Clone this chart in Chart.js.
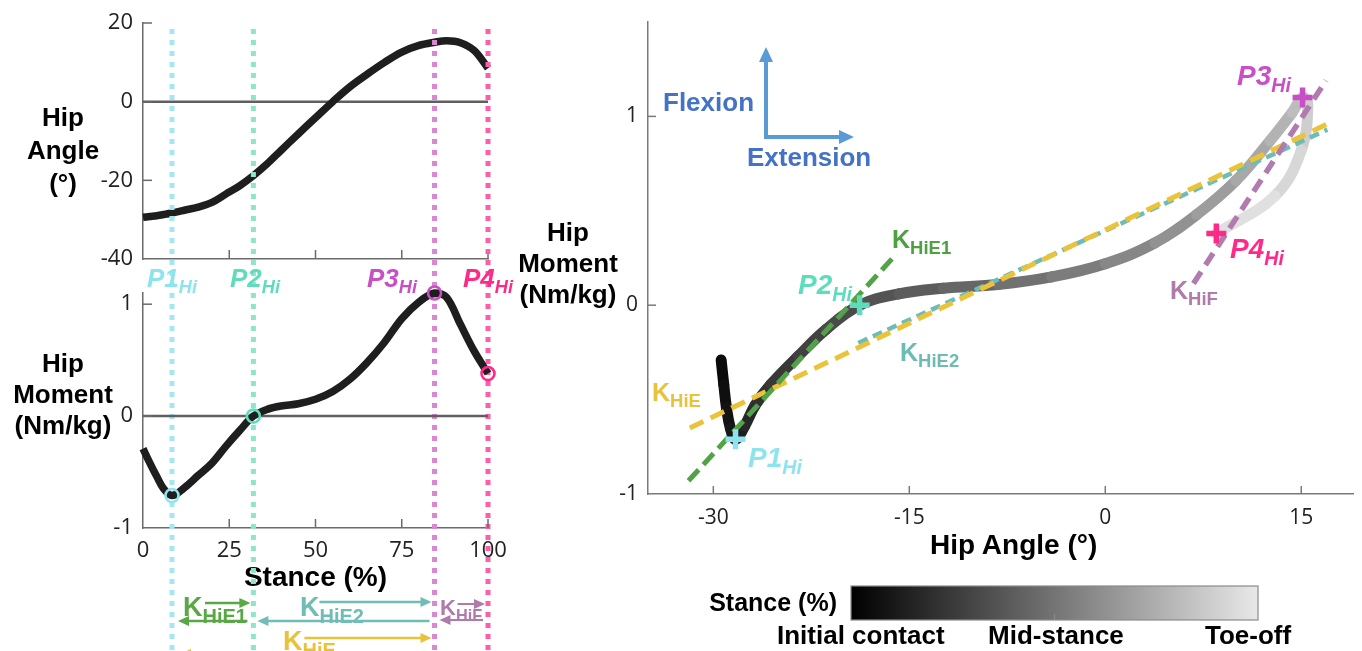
<!DOCTYPE html>
<html><head><meta charset="utf-8">
<script src="https://cdn.jsdelivr.net/npm/chart.js@4.4.0/dist/chart.umd.min.js"></script>
<style>
html,body{margin:0;padding:0;background:#fff;width:1362px;height:651px;overflow:hidden;position:relative;font-family:"Liberation Sans",Arial,sans-serif;}
canvas{position:absolute;}
#c1{left:0;top:0;z-index:1}
#c2{left:0;top:0;z-index:2}
#c3{left:520px;top:0;z-index:1}
.lb{position:absolute;z-index:5;font-weight:bold;white-space:nowrap;line-height:1;}
.p{font-style:italic;}
.s{font-size:.7em;position:relative;top:.38em;}
.ks{font-size:.74em;position:relative;top:.37em;}
.yt{position:absolute;z-index:5;font-weight:bold;font-size:26px;text-align:center;color:#000;white-space:nowrap;}
</style></head><body>
<canvas id="c1" width="530" height="300"></canvas>
<canvas id="c2" width="530" height="651"></canvas>
<canvas id="c3" width="849" height="651"></canvas>

<!-- y-axis titles -->
<div class="yt" style="left:-2px;top:101px;width:130px;line-height:33px">Hip<br>Angle<br>(°)</div>
<div class="yt" style="left:-2px;top:348px;width:130px;line-height:31px">Hip<br>Moment<br>(Nm/kg)</div>
<div class="yt" style="left:503px;top:217px;width:130px;line-height:31px">Hip<br>Moment<br>(Nm/kg)</div>
<div class="lb" style="left:930px;top:531px;font-size:28px;color:#000">Hip Angle (°)</div>

<!-- phase labels, left -->
<div class="lb p" style="left:147px;top:264.5px;font-size:26px;color:#8ee4ee">P1<span class="s">Hi</span></div>
<div class="lb p" style="left:230px;top:264.5px;font-size:26px;color:#5fdcbc">P2<span class="s">Hi</span></div>
<div class="lb p" style="left:367px;top:264.5px;font-size:26px;color:#c94fc6">P3<span class="s">Hi</span></div>
<div class="lb p" style="left:463px;top:264.5px;font-size:26px;color:#ff2a88">P4<span class="s">Hi</span></div>

<!-- stiffness phase labels, left -->
<div class="lb" style="left:183px;top:593.5px;font-size:27px;color:#5aa845">K<span class="ks">HiE1</span></div>
<div class="lb" style="left:300px;top:593.5px;font-size:27px;color:#6fbdb5">K<span class="ks">HiE2</span></div>
<div class="lb" style="left:440px;top:597px;font-size:22px;color:#b07aaa">K<span class="ks">HiF</span></div>
<div class="lb" style="left:283px;top:627.5px;font-size:27px;color:#e8c23a">K<span class="ks">HiE</span></div>

<!-- right panel labels -->
<div class="lb" style="left:663px;top:88.5px;font-size:26px;color:#4472c4">Flexion</div>
<div class="lb" style="left:747px;top:143.5px;font-size:26px;color:#4472c4">Extension</div>
<div class="lb p" style="left:748px;top:443.5px;font-size:28px;color:#8ee4ee">P1<span class="s">Hi</span></div>
<div class="lb p" style="left:798px;top:270.5px;font-size:28px;color:#5fdcbc">P2<span class="s">Hi</span></div>
<div class="lb p" style="left:1237px;top:61.5px;font-size:28px;color:#c94fc6">P3<span class="s">Hi</span></div>
<div class="lb p" style="left:1230px;top:234.5px;font-size:28px;color:#ff2a88">P4<span class="s">Hi</span></div>
<div class="lb" style="left:892px;top:226.5px;font-size:25px;color:#4ea040">K<span class="ks">HiE1</span></div>
<div class="lb" style="left:900px;top:339.5px;font-size:25px;color:#6dbcb3">K<span class="ks">HiE2</span></div>
<div class="lb" style="left:652px;top:379.5px;font-size:25px;color:#e8c23a">K<span class="ks">HiE</span></div>
<div class="lb" style="left:1170px;top:277.5px;font-size:25px;color:#b07aaa">K<span class="ks">HiF</span></div>

<!-- colour bar labels -->
<div class="lb" style="right:525px;top:590px;font-size:25px;color:#000">Stance (%)</div>
<div class="lb" style="left:777px;top:621.5px;font-size:26px;color:#000">Initial contact</div>
<div class="lb" style="left:988px;top:621.5px;font-size:26px;color:#000">Mid-stance</div>
<div class="lb" style="left:1205px;top:621.5px;font-size:26px;color:#000">Toe-off</div>

<script>
// ---------------- data ----------------
const stance    = [0, 2, 4, 6, 8.4, 12, 16, 20, 24, 28, 32, 36, 40, 45, 50, 55, 60, 65, 70, 75, 80, 84.5, 88, 92, 96, 100];
const hipAngle  = [-29.4, -29.2, -29.0, -28.7, -28.3, -27.6, -26.8, -25.6, -23.5, -21.4, -18.8, -15.8, -12.4, -8.2, -4.1, 0, 3.8, 7.0, 10.0, 12.6, 14.3, 15.1, 15.5, 15.0, 13.0, 8.5];
const hipMoment = [-0.29, -0.42, -0.54, -0.65, -0.71, -0.64, -0.53, -0.42, -0.27, -0.13, 0, 0.06, 0.09, 0.11, 0.15, 0.22, 0.33, 0.48, 0.66, 0.87, 1.02, 1.10, 1.06, 0.82, 0.58, 0.38];

const phaseStance = [8.4, 32, 84.5, 100];           // P1Hi..P4Hi
const phaseColors = ['#8ee4ee', '#5fdcbc', '#c94fc6', '#ff2a88'];
const phaseLineColors = ['#a5e7f0', '#8ee5c9', '#db86d2', '#ff5ca9'];

// fitted stiffness lines (hip angle, hip moment)
const kHiE1Angle = [-31.9, -16.0], kHiE1Moment = [-0.93, 0.27];
const kHiE2Angle = [-18.9, 17.0],  kHiE2Moment = [-0.20, 0.93];
const kHiEAngle  = [-31.8, 17.0],  kHiEMoment  = [-0.65, 0.96];
const kHiFAngle  = [6.75, 16.9],   kHiFMoment  = [0.115, 1.19];

// tick labels
const stanceTicks = [0, 25, 50, 75, 100];
const angleTicks  = [-40, -20, 0, 20];
const momentTicks = [-1, 0, 1];
const hipAngleTicks = [-30, -15, 0, 15];
const hipMomentTicks = [-1, 0, 1];

// ---------------- helpers ----------------
const phaseIdx = phaseStance.map(p => stance.indexOf(p));
const pts = (xs, ys) => xs.map((v, i) => ({x: v, y: ys[i]}));
const setTicks = arr => s => { s.ticks = arr.map(v => ({value: v})); };
const axisBorder = {display: true, color: '#6b6b6b', width: 1.5};
const noGrid = {display: false, drawTicks: false};
const tickFont = size => ({family: 'Open Sans', size: size});
const fixW = w => s => { s.width = w; s.paddingTop = 0; s.paddingBottom = 0; s.paddingLeft = 0; s.paddingRight = 0; };
const fixH = h => s => { s.height = h; s.paddingTop = 0; s.paddingBottom = 0; s.paddingLeft = 0; s.paddingRight = 0; };

const insideTicks = {
  id: 'insideTicks',
  afterDraw(chart, args, o) {
    const {ctx, chartArea: a, scales: {x, y}} = chart;
    ctx.save();
    ctx.strokeStyle = o.color || '#6b6b6b';
    ctx.lineWidth = 1.5;
    const len = o.len || 8;
    x.ticks.forEach(t => {
      const px = x.getPixelForValue(t.value);
      if (Math.abs(px - a.left) < 1) return;
      ctx.beginPath(); ctx.moveTo(px, a.bottom); ctx.lineTo(px, a.bottom - len); ctx.stroke();
    });
    y.ticks.forEach(t => {
      const py = y.getPixelForValue(t.value);
      if (Math.abs(py - a.bottom) < 1) return;
      ctx.beginPath(); ctx.moveTo(a.left, py); ctx.lineTo(a.left + len, py); ctx.stroke();
    });
    ctx.restore();
  }
};

function arrow(ctx, x0, x1, y, color, lw) {
  const dir = Math.sign(x1 - x0), hl = 11, hw = 5;
  ctx.strokeStyle = color; ctx.fillStyle = color; ctx.lineWidth = lw || 2.5;
  ctx.beginPath(); ctx.moveTo(x0, y); ctx.lineTo(x1 - dir * hl * 0.7, y); ctx.stroke();
  ctx.beginPath(); ctx.moveTo(x1, y); ctx.lineTo(x1 - dir * hl, y - hw); ctx.lineTo(x1 - dir * hl, y + hw); ctx.closePath(); ctx.fill();
}

const phaseLines = {
  id: 'phaseLines',
  beforeDatasetsDraw(chart) {
    const {ctx, scales: {x}} = chart;
    ctx.save();
    ctx.lineWidth = 5; ctx.setLineDash([5, 6]); ctx.lineCap = 'butt';
    phaseStance.forEach((p, i) => {
      const px = x.getPixelForValue(p);
      ctx.strokeStyle = phaseLineColors[i];
      ctx.beginPath(); ctx.moveTo(px, 29); ctx.lineTo(px, chart.height); ctx.stroke();
    });
    ctx.restore();
  }
};

const stiffArrows = {
  id: 'stiffArrows',
  afterDraw(chart) {
    const {ctx, scales: {x}} = chart;
    const P = phaseStance.map(v => x.getPixelForValue(v));
    ctx.save();
    arrow(ctx, P[0] + 33, P[1] - 3, 603, '#5aa845');
    arrow(ctx, P[1] - 6, P[0] + 6, 621, '#5aa845');
    arrow(ctx, P[1] + 66, P[2] - 3, 602, '#6fbdb5');
    arrow(ctx, P[2] - 5, P[1] + 4, 621, '#6fbdb5');
    arrow(ctx, P[2] + 23, P[3] - 3, 604, '#b07aaa', 2);
    arrow(ctx, P[3] - 5, P[2] + 5, 620, '#b07aaa', 2);
    arrow(ctx, P[1] + 51, P[2] - 3, 638, '#e8c23a');
    arrow(ctx, P[2] - 5, P[0] + 8, 654, '#e8c23a');
    ctx.restore();
  }
};

const rightDecor = {
  id: 'rightDecor',
  afterDraw(chart) {
    const {ctx} = chart;
    ctx.save();
    // flexion / extension arrows
    const c = '#5b9bd5', ox = 246, oy = 137;
    ctx.strokeStyle = c; ctx.fillStyle = c; ctx.lineWidth = 4;
    ctx.beginPath(); ctx.moveTo(ox, oy); ctx.lineTo(ox, 58); ctx.stroke();
    ctx.beginPath(); ctx.moveTo(ox, 47); ctx.lineTo(ox - 7, 62); ctx.lineTo(ox + 7, 62); ctx.closePath(); ctx.fill();
    ctx.beginPath(); ctx.moveTo(ox - 2, oy); ctx.lineTo(323, oy); ctx.stroke();
    ctx.beginPath(); ctx.moveTo(334, oy); ctx.lineTo(319, oy - 7); ctx.lineTo(319, oy + 7); ctx.closePath(); ctx.fill();
    // colour bar
    const x0 = 331, x1 = 738, y0 = 586, y1 = 620;
    const g = ctx.createLinearGradient(x0, 0, x1, 0);
    g.addColorStop(0, '#000000'); g.addColorStop(1, '#e8e8e8');
    ctx.fillStyle = g; ctx.fillRect(x0, y0, x1 - x0, y1 - y0);
    ctx.strokeStyle = '#8a8a8a'; ctx.lineWidth = 1.2;
    ctx.strokeRect(x0, y0, x1 - x0, y1 - y0);
    ctx.beginPath(); ctx.moveTo((x0 + x1) / 2, y1); ctx.lineTo((x0 + x1) / 2, y1 - 6); ctx.stroke();
    ctx.restore();
  }
};

const baseOpts = {
  responsive: false, animation: false, events: [],
  plugins: {legend: {display: false}, tooltip: {enabled: false}},
};

// ---------------- chart 1 : hip angle vs stance ----------------
new Chart(document.getElementById('c1'), {
  type: 'scatter',
  data: {datasets: [
    {data: pts([0, 100], [0, 0]), showLine: true, borderColor: '#5f5f5f', borderWidth: 2.5, pointRadius: 0, order: 2},
    {data: pts(stance, hipAngle), showLine: true, borderColor: '#1e1e1e', borderWidth: 7.5, pointRadius: 0,
     tension: 0.35, borderCapStyle: 'butt', clip: false, order: 1}
  ]},
  options: Object.assign({}, baseOpts, {
    layout: {padding: {left: 0, top: 23, right: 42, bottom: 41}},
    scales: {
      x: {type: 'linear', min: 0, max: 100, afterBuildTicks: setTicks(stanceTicks), ticks: {display: false},
          grid: noGrid, border: axisBorder, afterFit: fixH(0)},
      y: {min: -40, max: 20, afterBuildTicks: setTicks(angleTicks),
          ticks: {font: tickFont(22), color: '#222', padding: 10}, grid: noGrid, border: axisBorder,
          afterFit: fixW(143)}
    },
    plugins: Object.assign({}, baseOpts.plugins, {insideTicks: {len: 9}})
  }),
  plugins: [insideTicks]
});

// ---------------- chart 2 : hip moment vs stance ----------------
new Chart(document.getElementById('c2'), {
  type: 'scatter',
  data: {datasets: [
    {data: pts([0, 100], [0, 0]), showLine: true, borderColor: '#5f5f5f', borderWidth: 2.5, pointRadius: 0, order: 3},
    {data: pts(stance, hipMoment), showLine: true, borderColor: '#1e1e1e', borderWidth: 7.5, pointRadius: 0,
     tension: 0.35, clip: false, order: 2},
    {data: phaseIdx.map(i => ({x: stance[i], y: hipMoment[i]})), showLine: false, clip: false,
     pointRadius: 6.5, pointBorderWidth: 2.6, pointBackgroundColor: 'rgba(0,0,0,0)',
     pointBorderColor: phaseColors, order: 1}
  ]},
  options: Object.assign({}, baseOpts, {
    layout: {padding: {left: 0, top: 293, right: 42, bottom: 53}},
    scales: {
      x: {type: 'linear', min: 0, max: 100, afterBuildTicks: setTicks(stanceTicks),
          ticks: {font: tickFont(22), color: '#222', padding: 10, maxRotation: 0},
          grid: noGrid, border: axisBorder,
          title: {display: true, text: 'Stance (%)', color: '#000', font: {family: 'Liberation Sans', size: 28, weight: 'bold'}, padding: {top: 0, bottom: 3}},
          afterFit: fixH(70)},
      y: {min: -1, max: 1.1, afterBuildTicks: setTicks(momentTicks),
          ticks: {font: tickFont(22), color: '#222', padding: 10}, grid: noGrid, border: axisBorder,
          afterFit: fixW(143)}
    },
    plugins: Object.assign({}, baseOpts.plugins, {insideTicks: {len: 9}})
  }),
  plugins: [phaseLines, insideTicks, stiffArrows]
});

// ---------------- chart 3 : hip moment vs hip angle ----------------
const grayAt = t => { const v = Math.round(8 + t * 2.2); return `rgb(${v},${v},${v})`; };
new Chart(document.getElementById('c3'), {
  type: 'scatter',
  data: {datasets: [
    {label: 'Hip moment-angle loop', data: pts(hipAngle, hipMoment), showLine: true, borderWidth: 11, pointRadius: 0,
     tension: 0.4, borderCapStyle: 'round', borderJoinStyle: 'round', borderColor: '#000',
     segment: {borderColor: c => grayAt((stance[c.p0DataIndex] + stance[c.p1DataIndex]) / 2)}, order: 10},
    {label: 'KHiE2', data: pts(kHiE2Angle, kHiE2Moment), showLine: true, borderColor: '#6cbcb8', borderWidth: 4.5,
     borderDash: [10, 6], pointRadius: 0, order: 6},
    {label: 'KHiE', data: pts(kHiEAngle, kHiEMoment), showLine: true, borderColor: '#ebc33b', borderWidth: 5,
     borderDash: [15, 8], pointRadius: 0, order: 5},
    {label: 'KHiE1', data: pts(kHiE1Angle, kHiE1Moment), showLine: true, borderColor: '#52a347', borderWidth: 5,
     borderDash: [15, 7], pointRadius: 0, order: 4},
    {label: 'KHiF', data: pts(kHiFAngle, kHiFMoment), showLine: true, borderColor: '#b27bb0', borderWidth: 5.5,
     borderDash: [14, 8], pointRadius: 0, order: 3},
    {label: 'phases', data: phaseIdx.map(i => ({x: hipAngle[i], y: hipMoment[i]})), showLine: false,
     pointStyle: 'cross', pointRadius: 10, pointBorderWidth: 5.5, pointBorderColor: phaseColors,
     pointBackgroundColor: phaseColors, clip: false, order: 0}
  ]},
  options: Object.assign({}, baseOpts, {
    layout: {padding: {left: 0, top: 22, right: 15, bottom: 87}},
    scales: {
      x: {type: 'linear', min: -35, max: 19, afterBuildTicks: setTicks(hipAngleTicks),
          ticks: {font: tickFont(21), color: '#222', padding: 11, maxRotation: 0},
          grid: noGrid, border: Object.assign({}, axisBorder, {color: '#7a7a7a'}),
          afterFit: fixH(70)},
      y: {min: -1, max: 1.5, afterBuildTicks: setTicks(hipMomentTicks),
          ticks: {font: tickFont(21), color: '#222', padding: 10}, grid: noGrid,
          border: Object.assign({}, axisBorder, {color: '#7a7a7a'}),
          afterFit: fixW(128)}
    },
    plugins: Object.assign({}, baseOpts.plugins, {insideTicks: {len: 8, color: '#7a7a7a'}})
  }),
  plugins: [insideTicks, rightDecor]
});
</script>
</body></html>
